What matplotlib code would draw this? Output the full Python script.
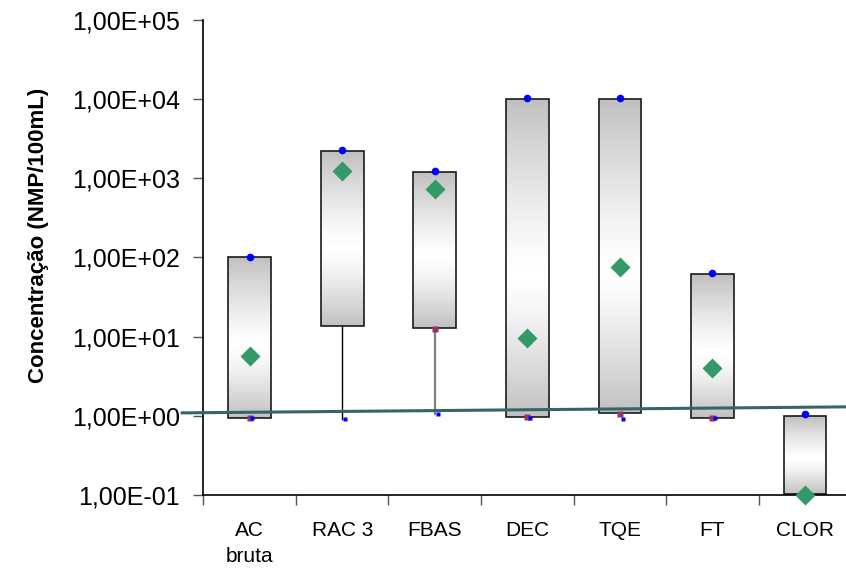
import numpy as np
import matplotlib
matplotlib.use("Agg")
import matplotlib.pyplot as plt
from matplotlib.ticker import FixedLocator, FuncFormatter, NullLocator

plt.rcParams['font.family'] = ['Liberation Sans', 'DejaVu Sans']

categorias = ["AC\nbruta", "RAC 3", "FBAS", "DEC", "TQE", "FT", "CLOR"]
caixa_sup = [100, 2200, 1200, 10000, 10000, 61, 1.0]
caixa_inf = [0.95, 13.5, 13, 0.97, 1.09, 0.95, 0.103]
maximo = [102, 2300, 1220, 10200, 10200, 63, 1.04]
media = [5.7, 1250, 725, 9.7, 75, 4.0, 0.1]
minimo = [0.93, 0.92, 1.04, 0.93, 0.92, 0.93, np.nan]
percentil = [0.93, np.nan, 12.6, 0.97, 1.06, 0.95, np.nan]
# whiskers only where the box does not reach the minimum
bigode_ini = [np.nan, 13.5, 13, np.nan, np.nan, np.nan, np.nan]
bigode_fim = [np.nan, 0.92, 1.04, np.nan, np.nan, np.nan, np.nan]
linha_x = [-0.73, 6.5]
linha_y = [1.09, 1.30]

fig = plt.figure(figsize=(8.46, 5.69), dpi=100)
ax = fig.add_axes([0.2405, 0.130, 0.7655, 0.835])
ax.set_yscale('log')
ax.set_ylim(0.1, 1e5)
ax.set_xlim(-0.5, 6.5)

x = np.arange(len(categorias))
w = 0.46
grey = np.array([0.75, 0.75, 0.75])
n = 80
for i in range(len(categorias)):
    lo, hi = caixa_inf[i], caixa_sup[i]
    t = np.linspace(0, 1, n + 1)
    edges = lo * (hi / lo) ** t
    mid = (t[:-1] + t[1:]) / 2
    d = np.where(mid < 0.45, (0.45 - mid) / 0.45, (mid - 0.45) / 0.55)
    for k in range(n):
        c = 1 - (1 - grey) * d[k] ** 1.3
        ax.bar(x[i], edges[k + 1] - edges[k], bottom=edges[k], width=w,
               color=c, edgecolor='none', linewidth=0, zorder=1)
    ax.bar(x[i], hi - lo, bottom=lo, width=w, fill=False,
           edgecolor='#1a1a1a', linewidth=1.2, zorder=2)

for i in range(len(categorias)):
    if not np.isnan(bigode_ini[i]):
        ax.plot([x[i], x[i]], [bigode_ini[i], bigode_fim[i]],
                color='black' if i == 1 else '#7f7f7f',
                lw=1.0 if i == 1 else 1.6, zorder=2)

ax.plot(linha_x, linha_y, color='#336666', lw=2.2, zorder=3, clip_on=False)

ax.plot(x, maximo, 'o', color='#0000ff', ms=5.5, mec='none', zorder=5)
ax.plot(x, media, 'D', color='#339966', ms=10, mec='none', zorder=5, clip_on=False)
ax.plot(x, percentil, 's', color='#993366', ms=5, mec='none', zorder=5)
ax.plot(x + 0.03, minimo, 's', color='#0000ff', ms=3.2, mec='none', zorder=6)

ax.spines['top'].set_visible(False)
ax.spines['right'].set_visible(False)
ax.spines['left'].set_linewidth(1.2)
ax.spines['bottom'].set_linewidth(1.2)

ax.yaxis.set_major_locator(FixedLocator([1e-1, 1e0, 1e1, 1e2, 1e3, 1e4, 1e5]))
ax.yaxis.set_minor_locator(NullLocator())
ax.yaxis.set_major_formatter(FuncFormatter(lambda v, p: f"{v:.2E}".replace('.', ',')))
ax.tick_params(axis='y', labelsize=18, length=7, width=1, pad=10, color='#555555')

ax.set_xticks(np.arange(-0.5, 7, 1.0))
ax.set_xticks(x, minor=True)
ax.set_xticklabels([])
ax.set_xticklabels(categorias, minor=True, linespacing=1.45, va='top')
ax.tick_params(axis='x', which='major', length=7, width=1, color='#555555')
ax.tick_params(axis='x', which='minor', length=0, labelsize=15, pad=19)

ax.set_ylabel("Concentração (NMP/100mL)", fontsize=16, fontweight='bold')
ax.yaxis.set_label_coords(-0.238, 0.547)

fig.savefig("out.png", dpi=100)
